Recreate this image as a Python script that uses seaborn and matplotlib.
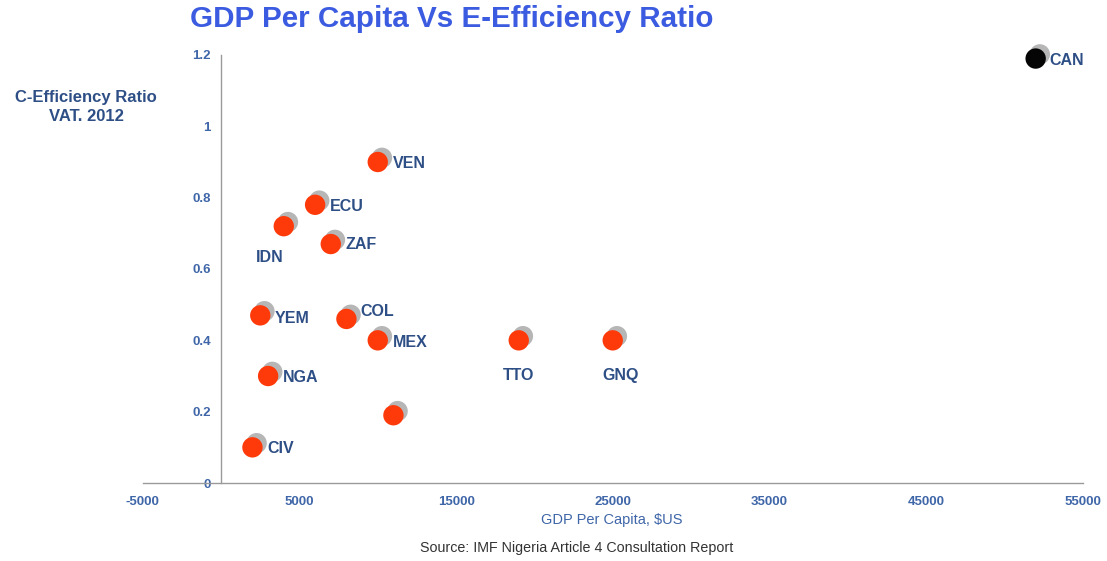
import matplotlib
matplotlib.use("Agg")
import matplotlib.pyplot as plt
import matplotlib.patheffects as pe
import pandas as pd
import seaborn as sns

# Country data: GDP per capita (US$) and VAT C-efficiency ratio, 2012
countries = ["CAN", "VEN", "ECU", "IDN", "ZAF", "YEM", "COL", "MEX", "TTO", "GNQ", "NGA", "", "CIV"]
gdp_per_capita = [52000, 10000, 6000, 4000, 7000, 2500, 8000, 10000, 19000, 25000, 3000, 11000, 2000]
c_efficiency = [1.19, 0.90, 0.78, 0.72, 0.67, 0.47, 0.46, 0.40, 0.40, 0.40, 0.30, 0.19, 0.10]
group = ["highlight"] + ["other"] * 12

x_ticks = [-5000, 5000, 15000, 25000, 35000, 45000, 55000]
y_ticks = [0, 0.2, 0.4, 0.6, 0.8, 1.0, 1.2]
y_tick_labels = ["0", "0.2", "0.4", "0.6", "0.8", "1", "1.2"]

df = pd.DataFrame({"country": countries, "gdp": gdp_per_capita,
                   "ratio": c_efficiency, "group": group})

sns.set_theme(style="white")
plt.rcParams["font.family"] = ["Liberation Sans", "DejaVu Sans"]

fig = plt.figure(figsize=(11.07, 5.61), dpi=100)
ax = fig.add_axes([0.129, 0.139, 0.849, 0.763])

label_blue = "#2E4F86"
tick_blue = "#3F66A8"

sns.scatterplot(data=df, x="gdp", y="ratio", hue="group",
                palette={"highlight": "#050505", "other": "#FF3A0A"},
                s=215, linewidth=0, legend=False, ax=ax, clip_on=False, zorder=3)
for coll in ax.collections:
    coll.set_path_effects([pe.SimplePatchShadow(offset=(3, 3), shadow_rgbFace="#7a7a7a", alpha=0.55),
                           pe.Normal()])

# label placement (offset in pixels, horizontal alignment)
placement = {
    "CAN": ((14, -2), "left"), "VEN": ((15, -2), "left"), "ECU": ((15, -2), "left"),
    "IDN": ((-14, -31), "center"), "ZAF": ((15, 0), "left"), "YEM": ((14, -3), "left"),
    "COL": ((14, 7), "left"), "MEX": ((15, -2), "left"), "TTO": ((0, -35), "center"),
    "GNQ": ((8, -35), "center"), "NGA": ((15, -1), "left"), "CIV": ((15, -1), "left"),
}
for name, gx, gy in zip(countries, gdp_per_capita, c_efficiency):
    if not name:
        continue
    off, ha = placement[name]
    ax.annotate(name, (gx, gy), xytext=off, textcoords="offset pixels",
                ha=ha, va="center", fontsize=11.5, fontweight="bold", color=label_blue)

ax.set_xlim(-5000, 55000)
ax.set_ylim(0, 1.2)
ax.set_xticks(x_ticks)
ax.set_xticklabels([str(t) for t in x_ticks])
ax.set_yticks(y_ticks)
ax.set_yticklabels(y_tick_labels)

for side in ("top", "right"):
    ax.spines[side].set_visible(False)
ax.spines["left"].set_position(("data", 0))
ax.spines["bottom"].set_position(("data", 0))
for side in ("left", "bottom"):
    ax.spines[side].set_color("#9a9a9a")
    ax.spines[side].set_linewidth(1.0)

ax.tick_params(axis="both", which="both", direction="out", length=4, width=1,
               color="#9a9a9a", labelcolor=tick_blue, labelsize=9.5)
for lbl in ax.get_xticklabels() + ax.get_yticklabels():
    lbl.set_fontweight("bold")
ax.tick_params(axis="x", pad=5)

ax.set_xlabel("")
ax.set_ylabel("")
fig.text(0.553, 0.073, "GDP Per Capita, $US", ha="center", va="center",
         fontsize=10.5, color=tick_blue)
fig.text(0.078, 0.809, "C-Efficiency Ratio\nVAT. 2012", ha="center", va="center",
         fontsize=12, fontweight="bold", color=label_blue, linespacing=1.35)
fig.text(0.172, 0.966, "GDP Per Capita Vs E-Efficiency Ratio", ha="left", va="center",
         fontsize=21.3, fontweight="bold", color="#3B5BE0")
fig.text(0.521, 0.024, "Source: IMF Nigeria Article 4 Consultation Report", ha="center",
         va="center", fontsize=10.3, color="#333333")

ax.grid(False)
fig.savefig("out.png", dpi=100, facecolor="white")
